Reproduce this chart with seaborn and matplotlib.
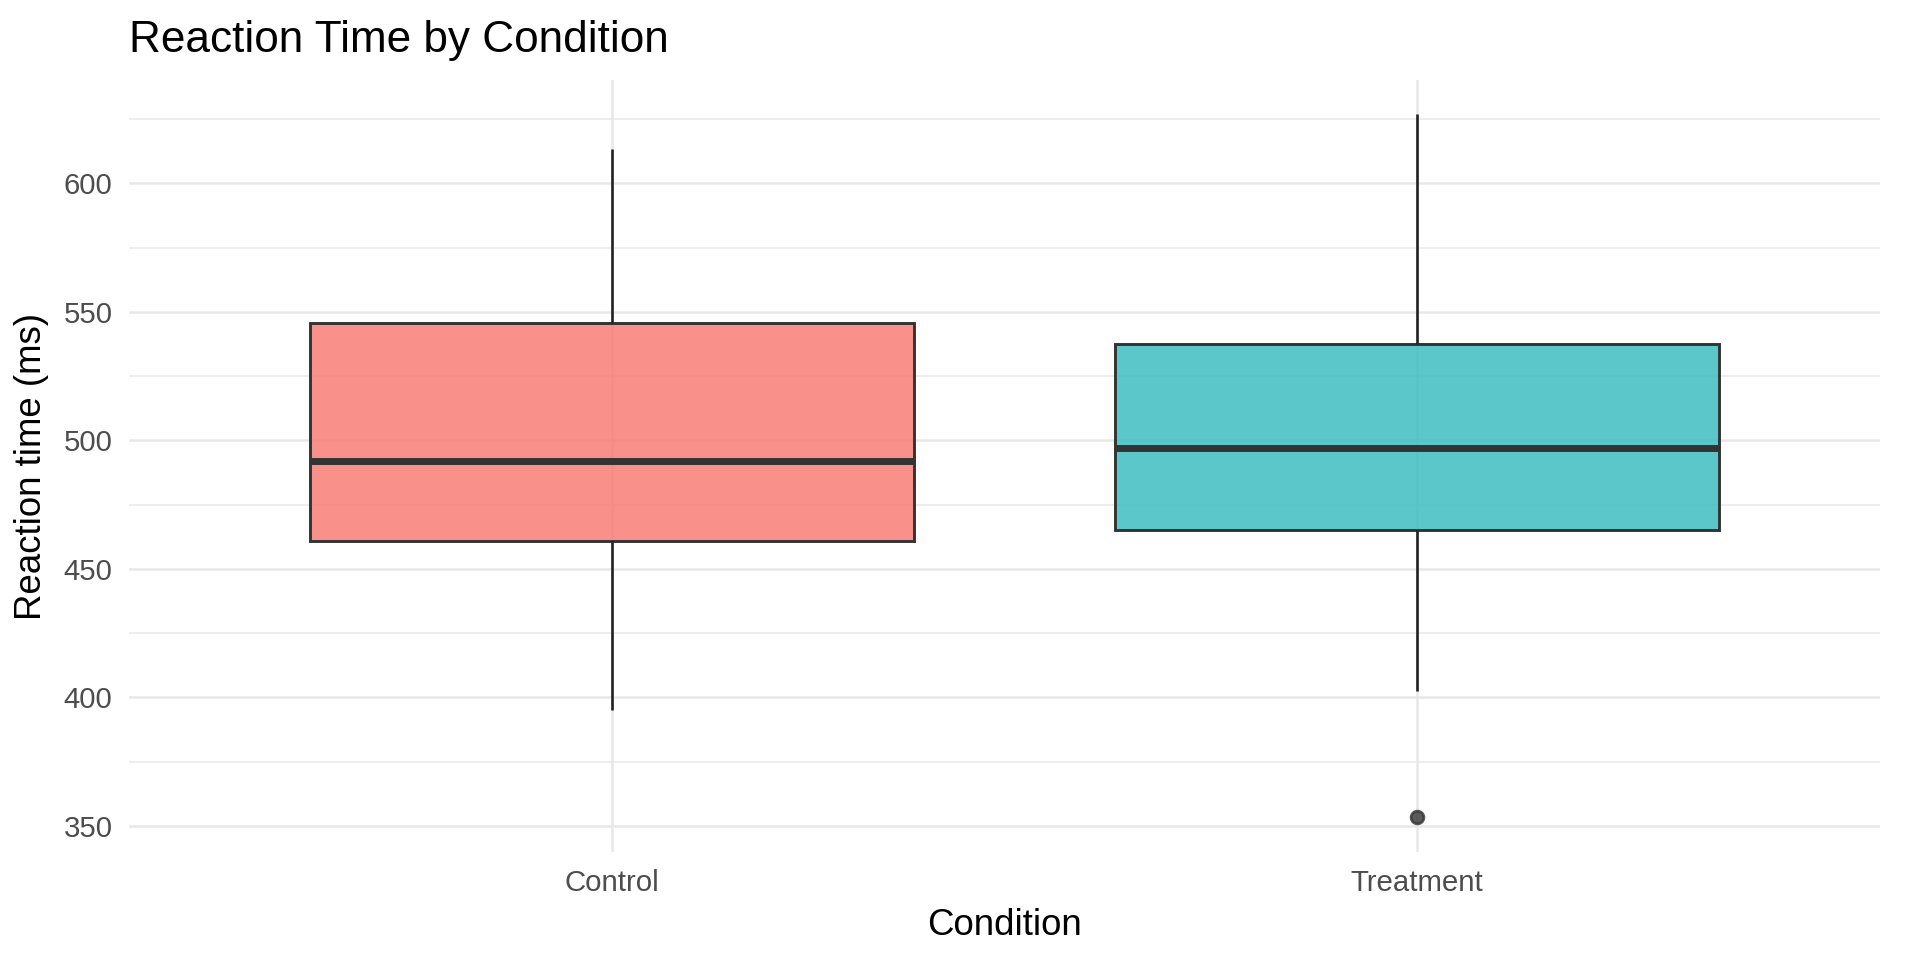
import numpy as np
import pandas as pd
import matplotlib.pyplot as plt
import seaborn as sns
from matplotlib.ticker import MultipleLocator


# reaction times (ms), one list per condition
conditions = ["Control", "Treatment"]
control_rt = [394.9, 438.0, 461.0, 477.0, 491.9, 519.0, 545.7, 579.0, 613.5]
treatment_rt = [353.3, 402.4, 465.1, 481.0, 497.0, 516.0, 537.4, 588.0, 627.0]
box_colors = ["#F8766D", "#33BABE"]

df = pd.DataFrame({
    "condition": [conditions[0]] * len(control_rt) + [conditions[1]] * len(treatment_rt),
    "rt": control_rt + treatment_rt,
})


# ggplot-ish minimal theme
sns.set_theme(style="white")
plt.rcParams["font.family"] = ["Liberation Sans", "DejaVu Sans"]
grid_col = "#E8E8E8"

fig = plt.figure(figsize=(9.6, 4.8), dpi=200)
ax = fig.add_axes([0.0672, 0.112, 0.912, 0.805])

ax.set_axisbelow(True)
ax.yaxis.set_major_locator(MultipleLocator(50))
ax.yaxis.set_minor_locator(MultipleLocator(50, offset=25))
ax.grid(which="major", axis="both", color=grid_col, linewidth=0.9)
ax.grid(which="minor", axis="y", color=grid_col, linewidth=0.55)

sns.boxplot(
    data=df, x="condition", y="rt", hue="condition", order=conditions,
    palette=box_colors, saturation=1, width=0.75, whis=1.5, showcaps=False,
    linecolor="#333333", linewidth=1.05, legend=False, ax=ax,
    medianprops={"linewidth": 2.5, "color": "#333333"},
    whiskerprops={"linewidth": 0.95, "color": "#222222"},
    flierprops={"marker": "o", "markersize": 4.6, "markerfacecolor": "#333333",
                "markeredgecolor": "#333333", "alpha": 0.8},
)
for patch in ax.patches:
    r, g, b, _ = patch.get_facecolor()
    patch.set_facecolor((r, g, b, 0.8))

ax.set_xlim(-0.6, 1.575)
ax.set_ylim(339.6, 640.4)
ax.xaxis.grid(True, which="major", color=grid_col, linewidth=0.9)
ax.yaxis.grid(True, which="major", color=grid_col, linewidth=0.9)

for s in ax.spines.values():
    s.set_visible(False)
ax.tick_params(axis="both", which="both", length=0, labelsize=10.6, labelcolor="#4D4D4D")
ax.tick_params(axis="y", pad=6)
ax.tick_params(axis="x", pad=6)

ax.set_title("Reaction Time by Condition", loc="left", fontsize=15.9, color="black", pad=10)
ax.set_xlabel("Condition", fontsize=13.2, color="black", labelpad=4)
ax.set_ylabel("Reaction time (ms)", fontsize=13.2, color="black", labelpad=5)

fig.savefig("out.png", dpi=200, facecolor="white")
